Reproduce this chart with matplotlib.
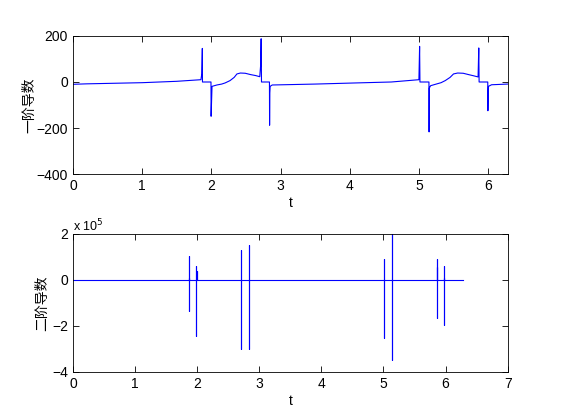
import matplotlib
matplotlib.use("Agg")
import matplotlib.pyplot as plt
import numpy as np

plt.rcParams['font.family'] = ['Liberation Sans', 'Noto Sans CJK SC', 'DejaVu Sans']
plt.rcParams['font.size'] = 10

# first derivative (vertices of the polyline)
t1 = [0.0, 0.2, 1.0, 1.5, 1.85, 1.862, 1.87, 1.872,
      1.995, 1.997, 2.01, 2.08, 2.15, 2.20, 2.27, 2.33, 2.37, 2.42, 2.49, 2.57, 2.64, 2.70,
      2.712, 2.72, 2.725, 2.84, 2.842, 2.845, 2.85, 2.88, 3.5, 4.1, 4.6, 4.8, 5.0,
      5.01, 5.015, 5.145, 5.147, 5.15, 5.17, 5.25, 5.32, 5.38, 5.45, 5.5, 5.56, 5.64,
      5.72, 5.79, 5.855, 5.865, 5.87, 5.995, 5.997, 6.0, 6.005, 6.05, 6.283]
d1 = [-10, -8, -3, 3, 10, 35, 146, 0,
      0, -149, -19, -13, -9, -4, 6, 20, 35, 39, 38, 32, 28, 23,
      70, 188, 0, 0, -188, -48, -19, -13, -9, -4, 0, 5, 10,
      155, 0, 0, -217, -26, -16, -9, -3, 6, 20, 35, 39, 38,
      32, 27, 22, 148, 0, 0, -125, -60, -19, -12, -9]

# second derivative (x 10^5): spike times, spike top, spike bottom
spike_t = [1.865, 1.87, 1.985, 1.99, 2.71, 2.84, 5.01, 5.14, 5.855, 5.86, 5.975, 5.98]
spike_hi = [0.07, 1.04, 0.61, 0.39, 1.30, 1.52, 0.91, 2.1, 0.55, 0.91, 0.61, 0.07]
spike_lo = [0.0, -1.33, -2.43, 0.0, -3.01, -2.99, -2.51, -3.5, 0.0, -1.64, -1.96, 0.0]
t_end = 6.283

t2 = [0.0]
d2 = [0.0]
for t, hi, lo in zip(spike_t, spike_hi, spike_lo):
    t2 += [t, t, t, t]
    d2 += [0.0, hi, lo, 0.0]
t2.append(t_end)
d2.append(0.0)

fig = plt.figure(figsize=(5.61, 4.20), dpi=100)
ax1 = fig.add_axes([0.130, 0.5857, 0.775, 0.3286])
ax2 = fig.add_axes([0.130, 0.1143, 0.775, 0.3286])

ax1.plot(t1, d1, color='blue', lw=0.8)
ax1.set_xlim(0, 2 * np.pi)
ax1.set_ylim(-400, 200)
ax1.set_xticks(range(0, 7))
ax1.set_yticks([-400, -200, 0, 200])
ax1.set_xlabel('t', labelpad=2)
ax1.set_ylabel('一阶导数', labelpad=0)

ax2.plot(t2, d2, color='blue', lw=0.8)
ax2.set_xlim(0, 7)
ax2.set_ylim(-4, 2)
ax2.set_xticks(range(0, 8))
ax2.set_yticks([-4, -2, 0, 2])
ax2.set_xlabel('t', labelpad=2)
ax2.set_ylabel('二阶导数', labelpad=2)
ax2.text(0.0, 1.02, r'x 10$^5$', transform=ax2.transAxes, fontsize=9)

for ax in (ax1, ax2):
    ax.tick_params(direction='in', top=True, right=True, length=4, width=0.6)
    for s in ax.spines.values():
        s.set_linewidth(0.6)

fig.savefig('out.png', dpi=100)
